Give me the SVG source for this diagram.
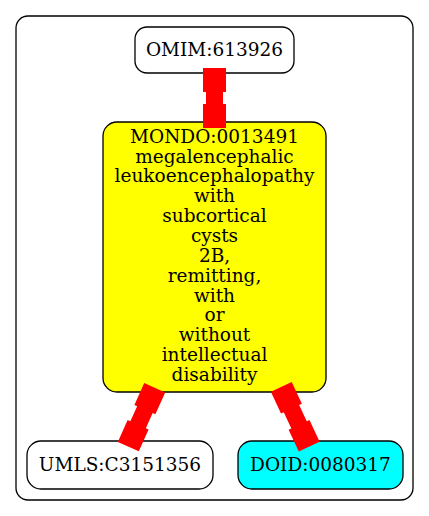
<svg xmlns="http://www.w3.org/2000/svg" width="429" height="516" viewBox="0 0 429 516">
<style>
text{font-family:"DejaVu Serif",serif;font-size:18.5px;text-anchor:middle;fill:#000}
.n{stroke:#000;stroke-width:1.3}
.e{fill:#ff0000}
</style>
<rect x="0" y="0" width="429" height="516" fill="#fff"/>
<rect x="16" y="16" width="397" height="484" rx="12" fill="none" stroke="#000" stroke-width="1.3"/>
<g id="omim">
<rect class="n" x="135" y="27" width="159" height="46" rx="12" fill="#fff"/>
<text x="214.5" y="56">OMIM:613926</text>
</g>
<g id="mondo">
<rect class="n" x="103" y="122" width="223" height="270" rx="14" fill="#ffff00"/>
<text x="214.5" y="142.7">MONDO:0013491</text>
<text x="214.5" y="162.6">megalencephalic</text>
<text x="214.5" y="182.4">leukoencephalopathy</text>
<text x="214.5" y="202.3">with</text>
<text x="214.5" y="222.1">subcortical</text>
<text x="214.5" y="242">cysts</text>
<text x="214.5" y="261.9">2B,</text>
<text x="214.5" y="281.7">remitting,</text>
<text x="214.5" y="301.6">with</text>
<text x="214.5" y="321.4">or</text>
<text x="214.5" y="341.3">without</text>
<text x="214.5" y="361.2">intellectual</text>
<text x="214.5" y="381">disability</text>
</g>
<g id="umls">
<rect class="n" x="27" y="441" width="186" height="48" rx="14" fill="#fff"/>
<text x="120" y="471">UMLS:C3151356</text>
</g>
<g id="doid">
<rect class="n" x="238" y="441" width="165" height="48" rx="14" fill="#00ffff"/>
<text x="320.5" y="471">DOID:0080317</text>
</g>
<g id="edges">
<path class="e" transform="translate(214.5,68)" d="M-11.5,0H11.5V24H8.5V36H11.5V60H-11.5V36H-8.5V24H-11.5Z"/>
<path class="e" transform="translate(154.7,387.7) rotate(24.1)" d="M-11.5,0H11.5V24H8.5V40.6H11.5V64.6H-11.5V40.6H-8.5V24H-11.5Z"/>
<path class="e" transform="translate(281.3,386.8) rotate(-25)" d="M-11.5,0H11.5V24H8.5V42H11.5V66H-11.5V42H-8.5V24H-11.5Z"/>
</g>
</svg>
